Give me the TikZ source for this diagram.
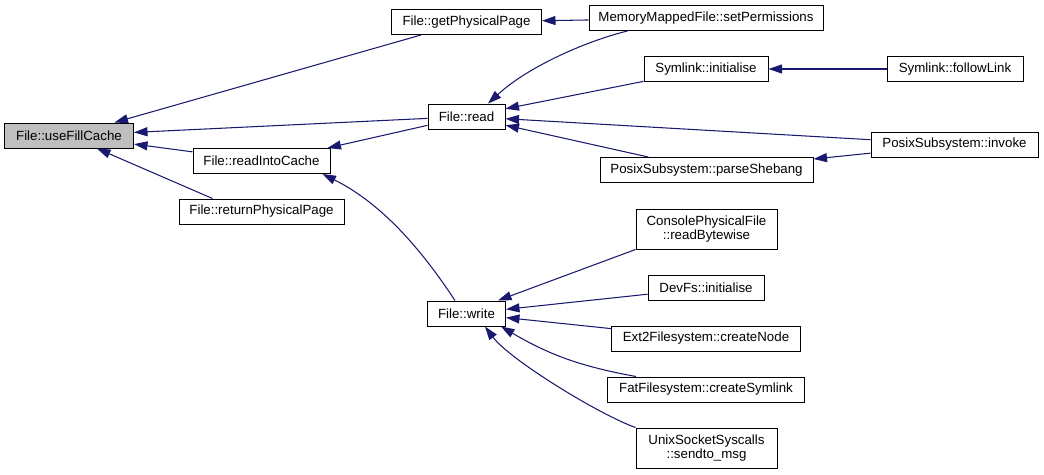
\documentclass[tikz,border=0pt]{standalone}
\usepackage{fontspec}
\setmainfont{Liberation Sans}
\usetikzlibrary{arrows.meta}
\definecolor{edgeblue}{RGB}{25,25,112}
\definecolor{rootgray}{RGB}{191,191,191}
\begin{document}
\begin{tikzpicture}[x=1pt,y=-1pt,
  box/.style={draw=black, line width=1pt, fill=white, inner sep=0pt,
    minimum height=25pt, align=center,
    font=\fontsize{13.3}{14.5}\selectfont},
  rootbox/.style={box, fill=rootgray},
  edge/.style={draw=edgeblue, line width=1.05pt,
    -{Triangle[length=13.5pt,width=9pt]}}]
\fill[white] (0,0) rectangle (1044,474);
\useasboundingbox (0,0) rectangle (1044,474);
% nodes
\node[rootbox, minimum width=129pt] (ufc) at (69,135.5) {File::useFillCache};
\node[box, minimum width=150pt] (gpp) at (466.5,22) {File::getPhysicalPage};
\node[box, minimum width=234pt] (mmf) at (706,18) {MemoryMappedFile::setPermissions};
\node[box, minimum width=124pt] (sli) at (706,69) {Symlink::initialise};
\node[box, minimum width=136pt] (slf) at (955,69) {Symlink::followLink};
\node[box, minimum width=77pt] (read) at (466.5,116.5) {File::read};
\node[box, minimum width=167pt] (psi) at (954.5,144.5) {PosixSubsystem::invoke};
\node[box, minimum width=213pt] (pss) at (706.5,170) {PosixSubsystem::parseShebang};
\node[box, minimum width=137pt] (ric) at (261.5,161) {File::readIntoCache};
\node[box, minimum width=165pt] (rpp) at (261.5,211.5) {File::returnPhysicalPage};
\node[box, minimum width=141pt, minimum height=40pt] (cpf) at (706.5,229) {ConsolePhysicalFile\\::readBytewise};
\node[box, minimum width=116pt] (dfi) at (706,288) {DevFs::initialise};
\node[box, minimum width=78pt] (write) at (466.5,313.5) {File::write};
\node[box, minimum width=189pt] (ext2) at (706,338.5) {Ext2Filesystem::createNode};
\node[box, minimum width=197pt] (fat) at (706,389.5) {FatFilesystem::createSymlink};
\node[box, minimum width=141pt, minimum height=40pt] (unix) at (706.5,448) {UnixSocketSyscalls\\::sendto\_msg};
% edges
\draw[edge] (gpp) -- (ufc);
\draw[edge] (read) -- (ufc);
\draw[edge] (ric) -- (ufc);
\draw[edge] ([xshift=34pt]rpp.north west) -- ([xshift=28pt]ufc.south);
\draw[edge] (read) -- ([xshift=-3pt]ric.north east);
\draw[edge] ([xshift=-11.5pt]write.north) .. controls (425,255) and (385,205) .. ([xshift=-8pt]ric.south east);
\draw[edge] (mmf) -- (gpp);
\draw[edge] ([xshift=39pt]mmf.south west) .. controls (590,40) and (530,65) .. ([xshift=21.5pt]read.north);
\draw[edge] (sli) -- (read);
\draw[edge] (psi) -- (read);
\draw[edge] (pss) -- (read);
\draw[edge] (slf) -- (sli);
\draw[edge] (psi) -- (pss);
\draw[edge] (cpf.south west) -- ([xshift=-8pt]write.north east);
\draw[edge] (dfi) -- (write);
\draw[edge] (ext2) -- (write);
\draw[edge] ([xshift=29pt]fat.north west) to[bend left=10] ([xshift=-5pt]write.south east);
\draw[edge] (unix.north west) .. controls (600,415) and (510,360) .. ([xshift=18.5pt]write.south);
\end{tikzpicture}
\end{document}
